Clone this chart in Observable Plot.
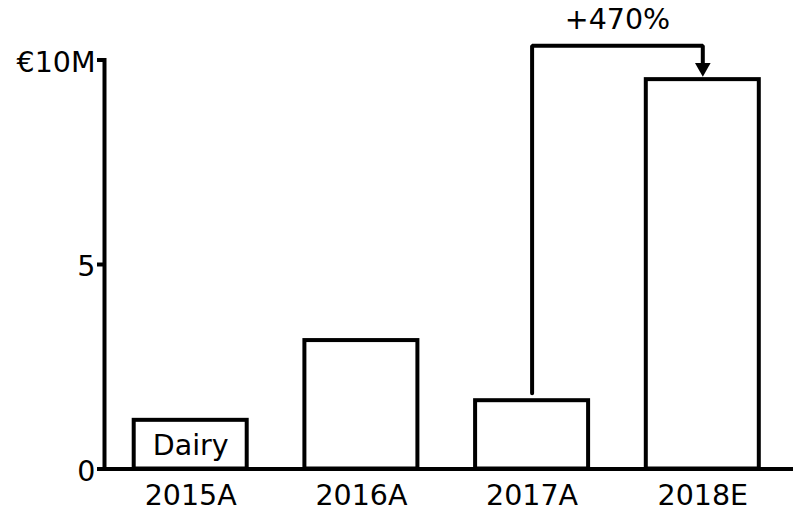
<!DOCTYPE html>
<html><head><meta charset="utf-8">
<script src="https://cdn.jsdelivr.net/npm/d3@7"></script>
<script src="https://cdn.jsdelivr.net/npm/@observablehq/plot@0.6"></script>
<style>
html,body{margin:0;padding:0;background:#fff;}
#chart svg{display:block;}
</style></head><body><div id="chart"></div>
<script>
// Data
const years = ["2015A", "2016A", "2017A", "2018E"];
const revenue = [1.19, 3.14, 1.67, 9.52]; // € millions
const yTicks = [0, 5, 10];
const yTickLabels = ["0", "5", "€10M"];
const barLabelYears = ["2015A"];
const barLabels = ["Dairy"];
const changeFrom = "2017A";
const changeTo = "2018E";
const changeLabel = "+470%";
const bracketLevel = 10.35; // € millions, height of the annotation bracket

const data = years.map((year, i) => ({year, value: revenue[i]}));
const value = Object.fromEntries(data.map(d => [d.year, d.value]));

const font = "'DejaVu Sans', Verdana, sans-serif";
const fs = 28.5;
const layout = {
  width: 793, height: 512,
  marginLeft: 104, marginRight: 4.5, marginTop: 59.5, marginBottom: 43.5,
  x: {domain: years, paddingInner: 0.338, paddingOuter: 0.174, round: false},
  y: {domain: [0, 10]},
  style: {fontFamily: font, fontSize: fs + "px", color: "black", background: "white"}
};

// probe pass to read the library's scales
const probe = Plot.plot({...layout, marks: [Plot.barY(data, {x: "year", y: "value"}), Plot.axisX({ticks: []}), Plot.axisY({ticks: []})]});
const xs = probe.scale("x"), ys = probe.scale("y");

const gapBelow = 7.5;
const headDy = -12;
const startY = ys.invert(ys.apply(value[changeFrom]) - gapBelow);
const endY = ys.invert(ys.apply(value[changeTo]) + headDy);
const bracket = [
  {x: changeFrom, y: startY},
  {x: changeFrom, y: bracketLevel},
  {x: changeTo, y: bracketLevel},
  {x: changeTo, y: endY}
];
const midDx = (xs.apply(changeTo) - xs.apply(changeFrom)) / 2;

const chart = Plot.plot({
  ...layout,
  marks: [
    Plot.barY(data, {x: "year", y: "value", fill: "white", stroke: "black", strokeWidth: 4}),
    Plot.ruleY([0], {stroke: "black", strokeWidth: 4, insetRight: -5}),
    Plot.frame({anchor: "left", stroke: "black", strokeWidth: 4}),
    // tick marks
    Plot.axisY({ticks: yTicks, tickFormat: () => "", tickSize: 7, strokeWidth: 4, label: null}),
    // tick labels
    Plot.axisY({ticks: yTicks, tickFormat: d => yTickLabels[yTicks.indexOf(d)], tickSize: 0, tickPadding: 9,
      label: null, fontSize: fs, dy: 2.5}),
    Plot.axisX({tickSize: 0, tickPadding: 16, label: null, fontSize: fs}),
    Plot.text(barLabelYears.map((year, i) => ({year, label: barLabels[i]})),
      {x: "year", y: 0, text: "label", dy: -23, lineAnchor: "middle", fontSize: fs}),
    Plot.line(bracket, {x: "x", y: "y", stroke: "black", strokeWidth: 4, strokeLinejoin: "miter"}),
    Plot.dot([changeTo], {x: d => d, y: d => value[d], symbol: "triangle", rotate: 180, r: 5.8,
      fill: "black", stroke: "none", dy: headDy}),
    Plot.text([changeLabel], {x: () => changeFrom, y: () => bracketLevel, text: d => d,
      dx: midDx, dy: -26, lineAnchor: "middle", fontSize: fs})
  ]
});
document.getElementById("chart").appendChild(chart);
</script>
</body></html>
